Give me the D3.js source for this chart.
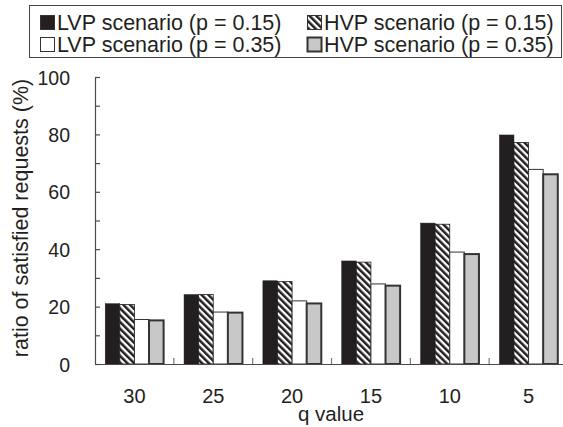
<!DOCTYPE html>
<html>
<head>
<meta charset="utf-8">
<script src="https://cdn.jsdelivr.net/npm/d3@7"></script>
<style>
  html, body { margin: 0; padding: 0; background: #fff; }
  svg { display: block; font-family: "Liberation Sans", Arial, sans-serif; }
</style>
</head>
<body>
<svg id="chart" width="563" height="427"></svg>
<script>
// ---- data ----
const categories = ["30", "25", "20", "15", "10", "5"];
const seriesNames = ["LVP scenario (p = 0.15)", "HVP scenario (p = 0.15)", "LVP scenario (p = 0.35)", "HVP scenario (p = 0.35)"];
const lvp015 = [21.0, 24.2, 29.0, 35.9, 49.1, 79.8];
const hvp015 = [20.7, 24.2, 28.7, 35.5, 48.7, 77.2];
const lvp035 = [15.5, 18.1, 22.0, 27.9, 39.0, 67.8];
const hvp035 = [15.2, 17.9, 21.1, 27.3, 38.3, 66.1];
const yTicks = [0, 10, 20, 30, 40, 50, 60, 70, 80, 90, 100];
const xTitle = "q value";
const yTitle = "ratio of satisfied requests (%)";

const seriesValues = [lvp015, hvp015, lvp035, hvp035];
const ink = "#231f20";
const axisCol = "#4a4a4a";
const styles = [
  { fill: ink, stroke: ink, sw: 0.5 },
  { fill: "url(#hatch)", stroke: ink, sw: 0.8 },
  { fill: "#ffffff", stroke: "#333", sw: 1 },
  { fill: "#c8c8c8", stroke: "#333", sw: 2 }
];

const svg = d3.select("#chart");
const defs = svg.append("defs");
const pat = defs.append("pattern")
  .attr("id", "hatch").attr("patternUnits", "userSpaceOnUse")
  .attr("width", 4.8).attr("height", 4.8)
  .attr("patternTransform", "rotate(-45)");
pat.append("rect").attr("width", 4.8).attr("height", 4.8).attr("fill", "#fff");
pat.append("rect").attr("width", 2.5).attr("height", 4.8).attr("fill", ink);

// scales
const x = d3.scaleBand().domain(categories).range([95, 568]).padding(0);
const xs = d3.scaleBand().domain(d3.range(4)).range([0, x.bandwidth()]).paddingInner(0).paddingOuter(0.7);
const y = d3.scaleLinear().domain([0, 100]).range([364, 77]);

// bars
const g = svg.append("g");
categories.forEach((c, ci) => {
  seriesValues.forEach((vals, si) => {
    g.append("rect")
      .attr("x", x(c) + xs(si))
      .attr("y", y(vals[ci]))
      .attr("width", xs.bandwidth())
      .attr("height", y(0) - y(vals[ci]))
      .attr("fill", styles[si].fill)
      .attr("stroke", styles[si].stroke)
      .attr("stroke-width", styles[si].sw);
  });
});

// y axis
const yAxis = svg.append("g").attr("transform", "translate(95,0)")
  .call(d3.axisLeft(y).tickValues(yTicks).tickSize(-5).tickSizeOuter(0).tickPadding(25)
    .tickFormat(d => d % 20 === 0 ? d : ""));
yAxis.select(".domain").attr("stroke", axisCol).attr("stroke-width", 1.2);
yAxis.selectAll(".tick line").attr("stroke", axisCol).attr("stroke-width", 1.2);
yAxis.selectAll(".tick text").attr("font-size", 19.5).attr("fill", ink)
  .attr("font-family", "Liberation Sans, Arial, sans-serif").attr("dy", "0.36em");

// x axis
const xAxis = svg.append("g").attr("transform", "translate(0,364)")
  .call(d3.axisBottom(x).tickSize(0).tickSizeOuter(0).tickPadding(25));
xAxis.select(".domain").attr("stroke", axisCol).attr("stroke-width", 1.2);
xAxis.selectAll(".tick text").attr("font-size", 20).attr("fill", ink)
  .attr("font-family", "Liberation Sans, Arial, sans-serif");
// boundary ticks (upward)
xAxis.selectAll(".btick").data(categories.slice(1)).enter().append("line")
  .attr("x1", d => x(d)).attr("x2", d => x(d))
  .attr("y1", 0).attr("y2", -6)
  .attr("stroke", "#777").attr("stroke-width", 1.2);

// titles
svg.append("text").attr("x", 331).attr("y", 421).attr("text-anchor", "middle")
  .attr("font-size", 20.5).attr("fill", ink).text(xTitle);
svg.append("text").attr("transform", "translate(28,218) rotate(-90)")
  .attr("text-anchor", "middle").attr("font-size", 21.5).attr("fill", ink).text(yTitle);

// legend
svg.append("rect").attr("x", 29.5).attr("y", 5.5).attr("width", 532).attr("height", 52)
  .attr("fill", "#fff").attr("stroke", "#444").attr("stroke-width", 1);
const legPos = [
  { sx: 40, sy: 15 }, { sx: 307, sy: 15 }, { sx: 40, sy: 37 }, { sx: 307, sy: 37 }
];
seriesNames.forEach((name, i) => {
  const p = legPos[i];
  svg.append("rect").attr("x", p.sx + 0.5).attr("y", p.sy + 0.5).attr("width", 14).attr("height", 14)
    .attr("fill", styles[i].fill).attr("stroke", "#333").attr("stroke-width", i === 3 ? 2 : 1);
  svg.append("text").attr("x", p.sx + 17).attr("y", p.sy + 14.5)
    .attr("font-size", 21.5).attr("fill", ink).text(name);
});
</script>
</body>
</html>
